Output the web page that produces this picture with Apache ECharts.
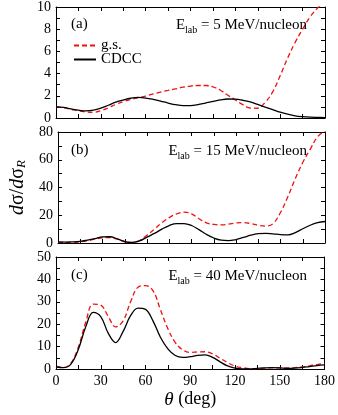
<!DOCTYPE html>
<html>
<head>
<meta charset="utf-8">
<script src="https://cdn.jsdelivr.net/npm/echarts@6/dist/echarts.min.js"></script>
<style>
html, body { margin: 0; padding: 0; background: #fff; }
#chart { width: 338px; height: 415px; }
</style>
</head>
<body>
<div id="chart"></div>
<script>
// angles (deg), common to all panels
var theta = [0, 5, 10, 15, 20, 25, 30, 35, 40, 45, 50, 55, 60, 65, 70, 75, 80, 85, 90,
  95, 100, 105, 110, 115, 120, 125, 130, 135, 140, 145, 150, 155, 160, 165, 170, 175, 180];

// (a) 5 MeV/nucleon
var gsA = [1.0, 0.92, 0.78, 0.64, 0.55, 0.52, 0.66, 0.92, 1.22, 1.48, 1.67, 1.82, 1.98, 2.17, 2.34, 2.48, 2.62, 2.78, 2.88,
  2.93, 2.93, 2.80, 2.50, 2.05, 1.62, 1.20, 0.90, 0.88, 1.42, 2.35, 3.80, 5.40, 6.80, 8.00, 9.10, 9.90, 10.6];
var cdccA = [1.0, 0.95, 0.82, 0.70, 0.64, 0.70, 0.88, 1.15, 1.42, 1.62, 1.78, 1.85, 1.80, 1.68, 1.52, 1.35, 1.20, 1.12, 1.12,
  1.20, 1.35, 1.50, 1.63, 1.71, 1.70, 1.60, 1.45, 1.22, 0.98, 0.75, 0.52, 0.34, 0.20, 0.12, 0.07, 0.05, 0.04];

// (b) 15 MeV/nucleon
var gsB = [0.5, 0.4, 0.4, 0.8, 1.6, 2.8, 3.8, 3.9, 2.8, 1.2, 0.2, 1.8, 5.6, 10.0, 14.6, 18.3, 21.0, 22.2, 21.0,
  17.5, 14.5, 13.4, 13.0, 13.6, 14.4, 14.7, 14.0, 12.8, 12.2, 14.0, 22.0, 33.5, 46.5, 58.0, 67.5, 76.5, 81.0];
var cdccB = [0.8, 0.7, 0.8, 1.2, 2.0, 3.2, 4.4, 4.5, 3.0, 0.9, 0.4, 1.5, 4.2, 6.9, 10.0, 12.6, 14.0, 14.0, 12.6,
  9.6, 6.3, 3.6, 2.0, 1.7, 2.5, 4.0, 5.6, 6.7, 7.0, 6.6, 6.1, 5.9, 7.5, 10.3, 12.8, 14.6, 15.5];

// (c) 40 MeV/nucleon
var gsC = [1.0, 0.7, 2.6, 9.8, 21.0, 29.0, 28.5, 23.5, 18.8, 21.5, 30.0, 36.5, 37.2, 35.0, 26.5, 18.0, 11.8, 8.5, 7.4,
  7.6, 7.7, 6.8, 4.8, 2.9, 1.3, 0.6, 0.2, 0.2, 0.4, 0.5, 0.5, 0.5, 0.6, 0.9, 1.4, 2.0, 2.5];
var cdccC = [1.0, 0.6, 2.2, 8.8, 19.0, 25.3, 23.4, 16.0, 11.8, 16.8, 23.8, 27.2, 26.6, 21.5, 14.2, 9.0, 6.0, 5.2, 5.5,
  6.1, 6.3, 5.2, 3.2, 1.4, 0.4, 0.1, 0.1, 0.3, 0.5, 0.6, 0.5, 0.3, 0.4, 0.7, 1.1, 1.5, 1.8];

var panelLabels = ["(a)", "(b)", "(c)"];
var energies = ["5", "15", "40"];
var yMax = [10, 80, 50];
var yTick = [1, 10, 5];
var yLabelStep = [2, 20, 10];

var font = '"Liberation Serif", "Times New Roman", serif';
var chart = echarts.init(document.getElementById("chart"));

var grids = [
  { left: 56, top: 6, width: 269, height: 112 },
  { left: 56, top: 132, width: 269, height: 111 },
  { left: 56, top: 257, width: 269, height: 112 }
];
var gsData = [gsA, gsB, gsC];
var cdccData = [cdccA, cdccB, cdccC];

function pairs(vals) {
  return theta.map(function (t, k) { return [t, vals[k]]; });
}

var xAxes = [], yAxes = [], series = [], titles = [];
grids.forEach(function (g, i) {
  var tick = { show: true, inside: true, length: 4, lineStyle: { color: "#000", width: 1 } };
  var line = { show: true, onZero: false, lineStyle: { color: "#000", width: 1 } };
  xAxes.push({
    type: "value", gridIndex: i, min: 0, max: 180, interval: 15, position: "bottom",
    axisLine: line, axisTick: tick, splitLine: { show: false },
    axisLabel: {
      show: i === 2, color: "#000", fontSize: 14, fontFamily: font, margin: 5,
      formatter: function (v) { return v % 30 === 0 ? String(v) : ""; }
    },
    name: i === 2 ? "{i|θ}{n| (deg)}" : "",
    nameLocation: "middle", nameGap: 21,
    nameTextStyle: {
      color: "#000",
      rich: {
        i: { fontFamily: font, fontSize: 19, fontStyle: "italic", color: "#000" },
        n: { fontFamily: font, fontSize: 18, color: "#000" }
      }
    }
  });
  xAxes.push({
    type: "value", gridIndex: i, min: 0, max: 180, interval: 15, position: "top",
    axisLine: line, axisTick: tick, splitLine: { show: false }, axisLabel: { show: false }
  });
  yAxes.push({
    type: "value", gridIndex: i, min: 0, max: yMax[i], interval: yTick[i], position: "left",
    axisLine: line, axisTick: tick, splitLine: { show: false },
    axisLabel: {
      color: "#000", fontSize: 14, fontFamily: font, margin: 5,
      formatter: function (v) { return v % yLabelStep[i] === 0 ? String(v) : ""; }
    },
    name: i === 1 ? "{i|d}{n|σ/}{i|d}{n|σ}{s|R}" : "",
    nameLocation: "middle", nameRotate: 90, nameGap: 30,
    nameTextStyle: {
      color: "#000",
      rich: {
        i: { fontFamily: font, fontSize: 20, fontStyle: "italic", color: "#000" },
        n: { fontFamily: font, fontSize: 20, color: "#000" },
        s: { fontFamily: font, fontSize: 13, fontStyle: "italic", color: "#000", verticalAlign: "bottom", lineHeight: 12 }
      }
    }
  });
  yAxes.push({
    type: "value", gridIndex: i, min: 0, max: yMax[i], interval: yTick[i], position: "right",
    axisLine: line, axisTick: tick, splitLine: { show: false }, axisLabel: { show: false }
  });

  series.push({
    name: "g.s.", type: "line", xAxisIndex: 2 * i, yAxisIndex: 2 * i,
    data: pairs(gsData[i]), smooth: 0.4, symbol: "none", clip: true,
    lineStyle: { color: "#f01010", width: 1.3, type: [5, 3] },
    itemStyle: { color: "#f01010" }
  });
  series.push({
    name: "CDCC", type: "line", xAxisIndex: 2 * i, yAxisIndex: 2 * i,
    data: pairs(cdccData[i]), smooth: 0.4, symbol: "none", clip: true,
    lineStyle: { color: "#000", width: 1.3 },
    itemStyle: { color: "#000" }
  });

  titles.push({
    text: panelLabels[i], left: 66, top: g.top + 6,
    textStyle: { fontFamily: font, fontSize: 15, fontWeight: "normal", color: "#000" }
  });
  titles.push({
    text: "{e|E}{s|lab}{e| = " + energies[i] + " MeV/nucleon}",
    right: 26, top: g.top + 4,
    textStyle: {
      fontWeight: "normal",
      rich: {
        e: { fontFamily: font, fontSize: 15, fontWeight: "normal", color: "#000", lineHeight: 20 },
        s: { fontFamily: font, fontSize: 10, fontWeight: "normal", color: "#000", verticalAlign: "bottom", lineHeight: 10 }
      }
    }
  });
});

chart.setOption({
  animation: false,
  backgroundColor: "#fff",
  title: titles,
  grid: grids,
  xAxis: xAxes,
  yAxis: yAxes,
  legend: {
    data: ["g.s.", "CDCC"],
    orient: "vertical", left: 68, top: 33,
    itemWidth: 22, itemHeight: 12, itemGap: -1,
    itemStyle: { color: "rgba(0,0,0,0)", borderWidth: 0 },
    textStyle: { fontFamily: font, fontSize: 15, color: "#000" }
  },
  series: series
});
</script>
</body>
</html>
